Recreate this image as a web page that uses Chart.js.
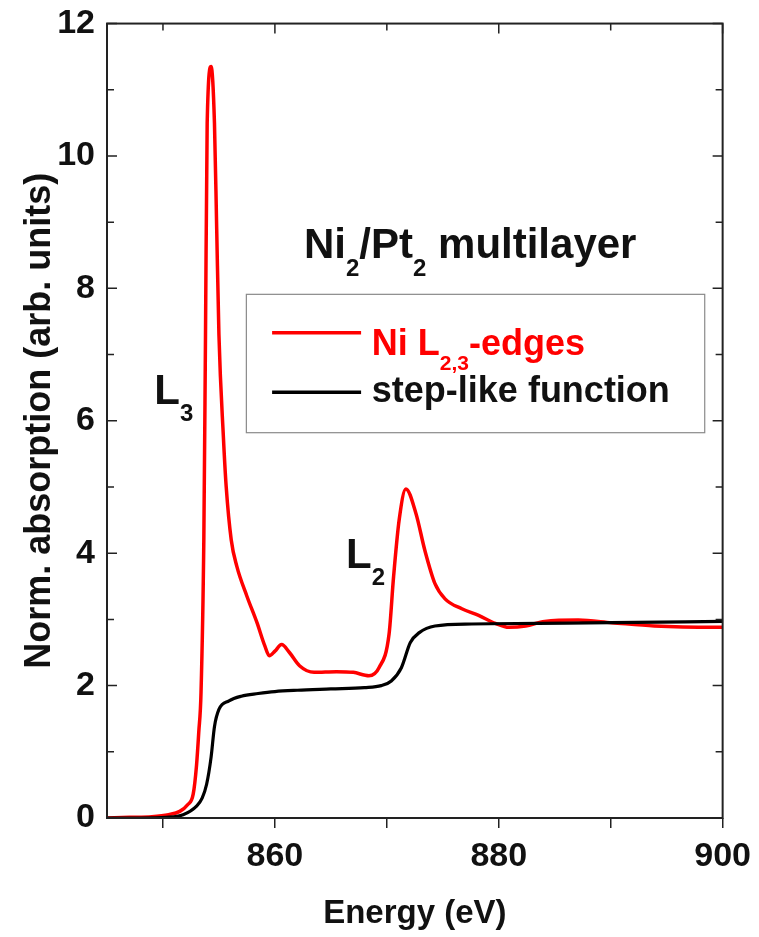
<!DOCTYPE html>
<html>
<head>
<meta charset="utf-8">
<script src="https://cdn.jsdelivr.net/npm/chart.js@4.4.0/dist/chart.umd.min.js"></script>
<style>
  html, body { margin: 0; padding: 0; background: #fff; }
  #wrap { width: 759px; height: 937px; position: relative; }
</style>
</head>
<body>
<div id="wrap"><canvas id="chart"></canvas></div>
<script>
// Ni L2,3 absorption spectrum
const redEnergy = [845, 847, 849, 850.5, 851.5, 852.2, 852.7, 853.0, 853.2, 853.4, 853.65, 853.8, 853.95, 854.3,
  854.6, 854.8, 855.0, 855.4, 855.65, 856.1, 856.6, 857.5, 858.4, 859.1, 859.5, 860.0, 860.6, 861.3, 862.2,
  863.5, 865.5, 867.0, 868.4, 869.3, 870.2, 870.6, 871.1, 871.7, 872.6, 873.4, 874.3, 875.2, 876.7, 878.2,
  879.7, 880.9, 882.4, 884.1, 887.1, 890.1, 893.9, 899.3, 900];
const redAbsorption = [0.0, 0.01, 0.02, 0.05, 0.1, 0.2, 0.36, 0.8, 1.3, 1.9, 4.2, 7.3, 10.5, 11.35,
  10.5, 8.9, 7.3, 5.75, 5.0, 4.2, 3.8, 3.35, 2.95, 2.6, 2.45, 2.52, 2.62, 2.5, 2.3,
  2.2, 2.21, 2.2, 2.15, 2.27, 2.78, 3.64, 4.5, 4.97, 4.6, 4.04, 3.54, 3.31, 3.16, 3.06,
  2.94, 2.88, 2.9, 2.97, 2.99, 2.95, 2.9, 2.88, 2.88];

// step-like background
const stepEnergy = [845, 848, 850.3, 851.8, 853.0, 853.5, 853.9, 854.3, 854.6, 855.0, 855.9, 857, 858.5,
  860, 862, 865, 868, 869.5, 870.4, 871.3, 872.1, 872.9, 874.3, 877.6, 883.5, 890, 900];
const stepAbsorption = [0, 0.0, 0.01, 0.05, 0.18, 0.3, 0.51, 0.92, 1.38, 1.64, 1.77, 1.84, 1.88,
  1.91, 1.93, 1.95, 1.97, 2.0, 2.07, 2.27, 2.65, 2.8, 2.9, 2.93, 2.94, 2.95, 2.97];

const xTicks = [850, 860, 870, 880, 890, 900];
const xLabels = [860, 880, 900];
const yTicks = [0, 1, 2, 3, 4, 5, 6, 7, 8, 9, 10, 11, 12];
const yLabels = [0, 2, 4, 6, 8, 10, 12];

const FONT = '"Liberation Sans", Arial, Helvetica, sans-serif';

function toPoints(xs, ys) {
  return xs.map((x, i) => ({ x: x, y: ys[i] }));
}

// text with subscripts: parts = [[text, isSub], ...]
function drawRich(ctx, parts, x, yBase, size, color) {
  let cx = x;
  ctx.fillStyle = color;
  ctx.textBaseline = 'alphabetic';
  ctx.textAlign = 'left';
  parts.forEach(([t, sub]) => {
    const s = sub ? Math.round(size * 0.58) : size;
    ctx.font = 'bold ' + s + 'px ' + FONT;
    ctx.fillText(t, cx, sub ? yBase + size * 0.42 : yBase);
    cx += ctx.measureText(t).width;
  });
}

const frameAndText = {
  id: 'frameAndText',
  afterDatasetsDraw(chart) {
    const ctx = chart.ctx;
    const a = chart.chartArea;
    const x = chart.scales.x;
    const y = chart.scales.y;
    ctx.save();

    // frame
    ctx.strokeStyle = '#222';
    ctx.lineWidth = 2;
    ctx.strokeRect(a.left, a.top, a.right - a.left, a.bottom - a.top);

    // inward ticks on left, right and top
    ctx.lineWidth = 1.5;
    ctx.beginPath();
    yTicks.forEach(v => {
      const py = y.getPixelForValue(v);
      const len = yLabels.includes(v) ? 10 : 7;
      ctx.moveTo(a.left, py); ctx.lineTo(a.left + len, py);
      ctx.moveTo(a.right, py); ctx.lineTo(a.right - len, py);
    });
    xTicks.forEach(v => {
      const px = x.getPixelForValue(v);
      const len = xLabels.includes(v) ? 10 : 7;
      ctx.moveTo(px, a.top); ctx.lineTo(px, a.top + len);
    });
    ctx.stroke();

    // annotations
    drawRich(ctx, [['Ni', false], ['2', true], ['/Pt', false], ['2', true], [' multilayer', false]],
      x.getPixelForValue(862.6), y.getPixelForValue(8.46), 42, '#111');
    drawRich(ctx, [['L', false], ['3', true]],
      x.getPixelForValue(849.23), y.getPixelForValue(6.26), 42, '#111');
    drawRich(ctx, [['L', false], ['2', true]],
      x.getPixelForValue(866.35), y.getPixelForValue(3.78), 42, '#111');

    // legend box
    const bx0 = x.getPixelForValue(857.45), bx1 = x.getPixelForValue(898.4);
    const by0 = y.getPixelForValue(7.91), by1 = y.getPixelForValue(5.82);
    ctx.fillStyle = '#fff';
    ctx.fillRect(bx0, by0, bx1 - bx0, by1 - by0);
    ctx.strokeStyle = '#8a8a8a';
    ctx.lineWidth = 1.2;
    ctx.strokeRect(bx0, by0, bx1 - bx0, by1 - by0);

    const lx0 = x.getPixelForValue(859.75), lx1 = x.getPixelForValue(867.7);
    const tx = x.getPixelForValue(868.66);
    ctx.lineWidth = 3.5;
    ctx.strokeStyle = '#ff0000';
    ctx.beginPath();
    ctx.moveTo(lx0, y.getPixelForValue(7.33)); ctx.lineTo(lx1, y.getPixelForValue(7.33));
    ctx.stroke();
    drawRich(ctx, [['Ni L', false], ['2,3', true], ['-edges', false]], tx, y.getPixelForValue(6.99), 36, '#ff0000');

    ctx.strokeStyle = '#000';
    ctx.beginPath();
    ctx.moveTo(lx0, y.getPixelForValue(6.43)); ctx.lineTo(lx1, y.getPixelForValue(6.43));
    ctx.stroke();
    drawRich(ctx, [['step-like function', false]], tx, y.getPixelForValue(6.28), 36, '#111');

    ctx.restore();
  }
};

const ctx = document.getElementById('chart').getContext('2d');

new Chart(ctx, {
  type: 'line',
  data: {
    datasets: [{
      label: 'Ni L2,3-edges',
      data: toPoints(redEnergy, redAbsorption),
      borderColor: '#ff0000',
      borderWidth: 3.5,
      cubicInterpolationMode: 'monotone',
      pointRadius: 0,
      fill: false,
      order: 1
    }, {
      label: 'step-like function',
      data: toPoints(stepEnergy, stepAbsorption),
      borderColor: '#000000',
      borderWidth: 3.2,
      cubicInterpolationMode: 'monotone',
      pointRadius: 0,
      fill: false,
      order: 0
    }]
  },
  options: {
    responsive: true,
    maintainAspectRatio: false,
    animation: false,
    layout: { padding: { top: 0, right: 35, left: 0, bottom: 0 } },
    plugins: {
      legend: { display: false },
      tooltip: { enabled: false }
    },
    scales: {
      x: {
        type: 'linear',
        min: 845,
        max: 900,
        afterBuildTicks: s => { s.ticks = xTicks.map(v => ({ value: v })); },
        afterFit: s => { s.height = 119; },
        ticks: {
          autoSkip: false,
          maxRotation: 0,
          padding: 8,
          color: '#111',
          font: { family: FONT, size: 34, weight: 'bold' },
          callback: v => xLabels.includes(v) ? String(v) : ''
        },
        grid: { drawOnChartArea: false, tickLength: 10, color: '#222', lineWidth: 1.5 },
        border: { display: false },
        title: {
          display: true,
          text: 'Energy (eV)',
          color: '#111',
          font: { family: FONT, size: 33, weight: 'bold' },
          padding: { top: 0, bottom: 3 }
        }
      },
      y: {
        type: 'linear',
        min: 0,
        max: 12,
        afterBuildTicks: s => { s.ticks = yTicks.map(v => ({ value: v })); },
        afterFit: s => { s.width = 107; },
        ticks: {
          autoSkip: false,
          padding: 12,
          color: '#111',
          font: { family: FONT, size: 34, weight: 'bold', lineHeight: 0.68 },
          callback: v => yLabels.includes(v) ? String(v) : ''
        },
        grid: { drawOnChartArea: false, drawTicks: false },
        border: { display: false },
        title: {
          display: true,
          text: 'Norm. absorption (arb. units)',
          color: '#111',
          font: { family: FONT, size: 36, weight: 'bold' },
          padding: { top: 18, bottom: 0 }
        }
      }
    }
  },
  plugins: [frameAndText]
});
</script>
</body>
</html>
